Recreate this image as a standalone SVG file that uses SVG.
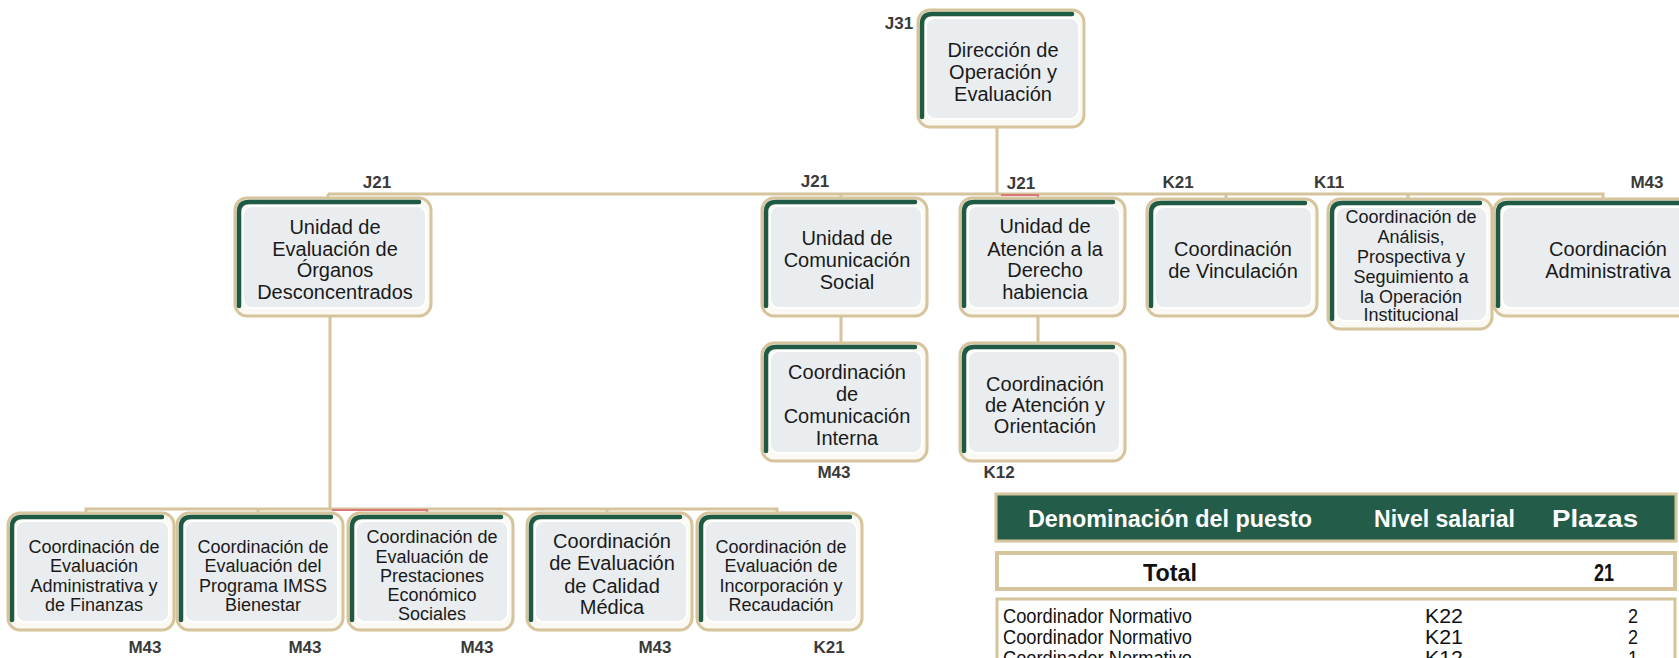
<svg xmlns="http://www.w3.org/2000/svg" width="1679" height="658" viewBox="0 0 1679 658">
<style>
.bk{fill:#fbf9f3;stroke:#d5c49c;stroke-width:3}
.gr{fill:none;stroke:#1e5a44;stroke-width:4.5;stroke-linecap:round}
.fr{fill:#e9edf0;stroke:#ffffff;stroke-width:2}
.t{font-family:"Liberation Sans",Arial,sans-serif;fill:#1a1a1a;text-anchor:middle}
.t20{font-size:20px}
.t18{font-size:18px}
.lb{font-family:"Liberation Sans",Arial,sans-serif;font-weight:bold;font-size:17px;fill:#3a3a3a;text-anchor:middle}
.cn{fill:none;stroke:#d5c49c;stroke-width:3}
.rd{fill:none;stroke:#d9777a;stroke-width:2}
.tn{font-family:"Liberation Sans Narrow","Liberation Sans",Arial,sans-serif}
</style>
<rect width="1679" height="658" fill="#ffffff"/>

<g id="connectors">
<path class="cn" d="M997,126 V194 M328,194 H1603 V200 M328,194 V200 M841,194 V200 M1038,194 V200 M1226,194 V200 M1408,194 V200"/>
<path class="cn" d="M841,316 V344 M1038,316 V344"/>
<path class="cn" d="M330,316 V509 M86,514 V509 H777 V514 M258,509 V514 M427,509 V514 M607,509 V514"/>
<path class="rd" d="M1001,195 H1038 V198"/>
<path class="rd" d="M332,510 H427 V513"/>
</g>

<g id="n_top">
<rect class="bk" x="918" y="10" width="166" height="117" rx="12"/>
<path class="gr" d="M922,117 V24 Q922,14 932,14 H1072"/>
<rect class="fr" x="926" y="18" width="153" height="101" rx="9"/>
<text class="t t20"><tspan x="1003" y="57">Dirección de</tspan><tspan x="1003" y="79">Operación y</tspan><tspan x="1003" y="101">Evaluación</tspan></text>
</g>

<g id="n_uod">
<rect class="bk" x="235" y="198" width="196" height="118" rx="12"/>
<path class="gr" d="M239,306 V212 Q239,202 249,202 H419"/>
<rect class="fr" x="243" y="206" width="183" height="102" rx="9"/>
<text class="t t20"><tspan x="335" y="234">Unidad de</tspan><tspan x="335" y="256">Evaluación de</tspan><tspan x="335" y="277">Órganos</tspan><tspan x="335" y="299">Desconcentrados</tspan></text>
</g>

<g id="n_ucs">
<rect class="bk" x="762" y="198" width="165" height="118" rx="12"/>
<path class="gr" d="M766,306 V212 Q766,202 776,202 H915"/>
<rect class="fr" x="770" y="206" width="152" height="102" rx="9"/>
<text class="t t20"><tspan x="847" y="245">Unidad de</tspan><tspan x="847" y="267">Comunicación</tspan><tspan x="847" y="289">Social</tspan></text>
</g>

<g id="n_uad">
<rect class="bk" x="960" y="198" width="165" height="118" rx="12"/>
<path class="gr" d="M964,306 V212 Q964,202 974,202 H1113"/>
<rect class="fr" x="968" y="206" width="152" height="102" rx="9"/>
<text class="t t20"><tspan x="1045" y="233">Unidad de</tspan><tspan x="1045" y="256">Atención a la</tspan><tspan x="1045" y="277">Derecho</tspan><tspan x="1045" y="299">habiencia</tspan></text>
</g>

<g id="n_cv">
<rect class="bk" x="1147" y="199" width="170" height="117" rx="12"/>
<path class="gr" d="M1151,306 V213 Q1151,203 1161,203 H1305"/>
<rect class="fr" x="1155" y="207" width="157" height="101" rx="9"/>
<text class="t t20"><tspan x="1233" y="256">Coordinación</tspan><tspan x="1233" y="278">de Vinculación</tspan></text>
</g>

<g id="n_cap">
<rect class="bk" x="1328" y="199" width="164" height="130" rx="12"/>
<path class="gr" d="M1332,319 V213 Q1332,203 1342,203 H1480"/>
<rect class="fr" x="1336" y="207" width="151" height="114" rx="9"/>
<text class="t t18"><tspan x="1411" y="223">Coordinación de</tspan><tspan x="1411" y="243">Análisis,</tspan><tspan x="1411" y="263">Prospectiva y</tspan><tspan x="1411" y="283">Seguimiento  a</tspan><tspan x="1411" y="303">la Operación</tspan><tspan x="1411" y="321">Institucional</tspan></text>
</g>

<g id="n_cad">
<rect class="bk" x="1494" y="199" width="220" height="117" rx="12"/>
<path class="gr" d="M1498,306 V213 Q1498,203 1508,203 H1702"/>
<rect class="fr" x="1502" y="207" width="207" height="101" rx="9"/>
<text class="t t20"><tspan x="1608" y="256">Coordinación</tspan><tspan x="1608" y="278">Administrativa</tspan></text>
</g>

<g id="n_cci">
<rect class="bk" x="762" y="343" width="165" height="118" rx="12"/>
<path class="gr" d="M766,451 V357 Q766,347 776,347 H915"/>
<rect class="fr" x="770" y="351" width="152" height="102" rx="9"/>
<text class="t t20"><tspan x="847" y="379">Coordinación</tspan><tspan x="847" y="401">de</tspan><tspan x="847" y="423">Comunicación</tspan><tspan x="847" y="445">Interna</tspan></text>
</g>

<g id="n_cao">
<rect class="bk" x="960" y="343" width="165" height="118" rx="12"/>
<path class="gr" d="M964,451 V357 Q964,347 974,347 H1113"/>
<rect class="fr" x="968" y="351" width="152" height="102" rx="9"/>
<text class="t t20"><tspan x="1045" y="391">Coordinación</tspan><tspan x="1045" y="412">de Atención y</tspan><tspan x="1045" y="433">Orientación</tspan></text>
</g>

<g id="n_b1">
<rect class="bk" x="8" y="513" width="166" height="117" rx="12"/>
<path class="gr" d="M12,620 V527 Q12,517 22,517 H162"/>
<rect class="fr" x="16" y="521" width="153" height="101" rx="9"/>
<text class="t t18"><tspan x="94" y="553">Coordinación de</tspan><tspan x="94" y="572">Evaluación</tspan><tspan x="94" y="592">Administrativa y</tspan><tspan x="94" y="611">de Finanzas</tspan></text>
</g>

<g id="n_b2">
<rect class="bk" x="177" y="513" width="166" height="117" rx="12"/>
<path class="gr" d="M181,620 V527 Q181,517 191,517 H331"/>
<rect class="fr" x="185" y="521" width="153" height="101" rx="9"/>
<text class="t t18"><tspan x="263" y="553">Coordinación de</tspan><tspan x="263" y="572">Evaluación del</tspan><tspan x="263" y="592">Programa IMSS</tspan><tspan x="263" y="611">Bienestar</tspan></text>
</g>

<g id="n_b3">
<rect class="bk" x="348" y="513" width="165" height="117" rx="12"/>
<path class="gr" d="M352,620 V527 Q352,517 362,517 H501"/>
<rect class="fr" x="356" y="521" width="152" height="101" rx="9"/>
<text class="t t18"><tspan x="432" y="543">Coordinación de</tspan><tspan x="432" y="563">Evaluación de</tspan><tspan x="432" y="582">Prestaciones</tspan><tspan x="432" y="601">Económico</tspan><tspan x="432" y="620">Sociales</tspan></text>
</g>

<g id="n_b4">
<rect class="bk" x="527" y="513" width="165" height="117" rx="12"/>
<path class="gr" d="M531,620 V527 Q531,517 541,517 H680"/>
<rect class="fr" x="535" y="521" width="152" height="101" rx="9"/>
<text class="t t20"><tspan x="612" y="548">Coordinación</tspan><tspan x="612" y="570">de Evaluación</tspan><tspan x="612" y="593">de Calidad</tspan><tspan x="612" y="614">Médica</tspan></text>
</g>

<g id="n_b5">
<rect class="bk" x="697" y="513" width="165" height="117" rx="12"/>
<path class="gr" d="M701,620 V527 Q701,517 711,517 H850"/>
<rect class="fr" x="705" y="521" width="152" height="101" rx="9"/>
<text class="t t18"><tspan x="781" y="553">Coordinación de</tspan><tspan x="781" y="572">Evaluación de</tspan><tspan x="781" y="592">Incorporación y</tspan><tspan x="781" y="611">Recaudación</tspan></text>
</g>

<g id="levels">
<text class="lb" x="899" y="29">J31</text>
<text class="lb" x="377" y="188">J21</text>
<text class="lb" x="815" y="187">J21</text>
<text class="lb" x="1021" y="189">J21</text>
<text class="lb" x="1178" y="188">K21</text>
<text class="lb" x="1329" y="188">K11</text>
<text class="lb" x="1647" y="188">M43</text>
<text class="lb" x="834" y="478">M43</text>
<text class="lb" x="999" y="478">K12</text>
<text class="lb" x="145" y="653">M43</text>
<text class="lb" x="305" y="653">M43</text>
<text class="lb" x="477" y="653">M43</text>
<text class="lb" x="655" y="653">M43</text>
<text class="lb" x="829" y="653">K21</text>
</g>

<g id="table">
<rect x="996" y="494" width="680" height="47" fill="#245c4a" stroke="#d5c49c" stroke-width="3"/>
<text class="tn" x="1028" y="527" font-size="24" font-weight="bold" fill="#ffffff" textLength="284" lengthAdjust="spacingAndGlyphs">Denominación del puesto</text>
<text class="tn" x="1374" y="527" font-size="24" font-weight="bold" fill="#ffffff" textLength="141" lengthAdjust="spacingAndGlyphs">Nivel salarial</text>
<text class="tn" x="1552" y="527" font-size="24" font-weight="bold" fill="#ffffff" textLength="86" lengthAdjust="spacingAndGlyphs">Plazas</text>
<rect x="997" y="553" width="678" height="36" fill="#ffffff" stroke="#d5c49c" stroke-width="4"/>
<text class="tn" x="1143" y="581" font-size="24" font-weight="bold" fill="#111111" textLength="54" lengthAdjust="spacingAndGlyphs">Total</text>
<text class="tn" x="1594" y="581" font-size="24" font-weight="bold" fill="#111111" textLength="20" lengthAdjust="spacingAndGlyphs">21</text>
<rect x="997" y="599" width="678" height="80" fill="#ffffff" stroke="#d5c49c" stroke-width="3"/>
<g class="tn" font-size="20" fill="#111111">
<text x="1003" y="623" textLength="189" lengthAdjust="spacingAndGlyphs">Coordinador Normativo</text>
<text x="1425" y="623" textLength="38" lengthAdjust="spacingAndGlyphs">K22</text>
<text x="1628" y="623" textLength="10" lengthAdjust="spacingAndGlyphs">2</text>
<text x="1003" y="644" textLength="189" lengthAdjust="spacingAndGlyphs">Coordinador Normativo</text>
<text x="1425" y="644" textLength="38" lengthAdjust="spacingAndGlyphs">K21</text>
<text x="1628" y="644" textLength="10" lengthAdjust="spacingAndGlyphs">2</text>
<text x="1003" y="665" textLength="189" lengthAdjust="spacingAndGlyphs">Coordinador Normativo</text>
<text x="1425" y="665" textLength="38" lengthAdjust="spacingAndGlyphs">K12</text>
<text x="1628" y="665" textLength="10" lengthAdjust="spacingAndGlyphs">1</text>
</g>
</g>
</svg>
